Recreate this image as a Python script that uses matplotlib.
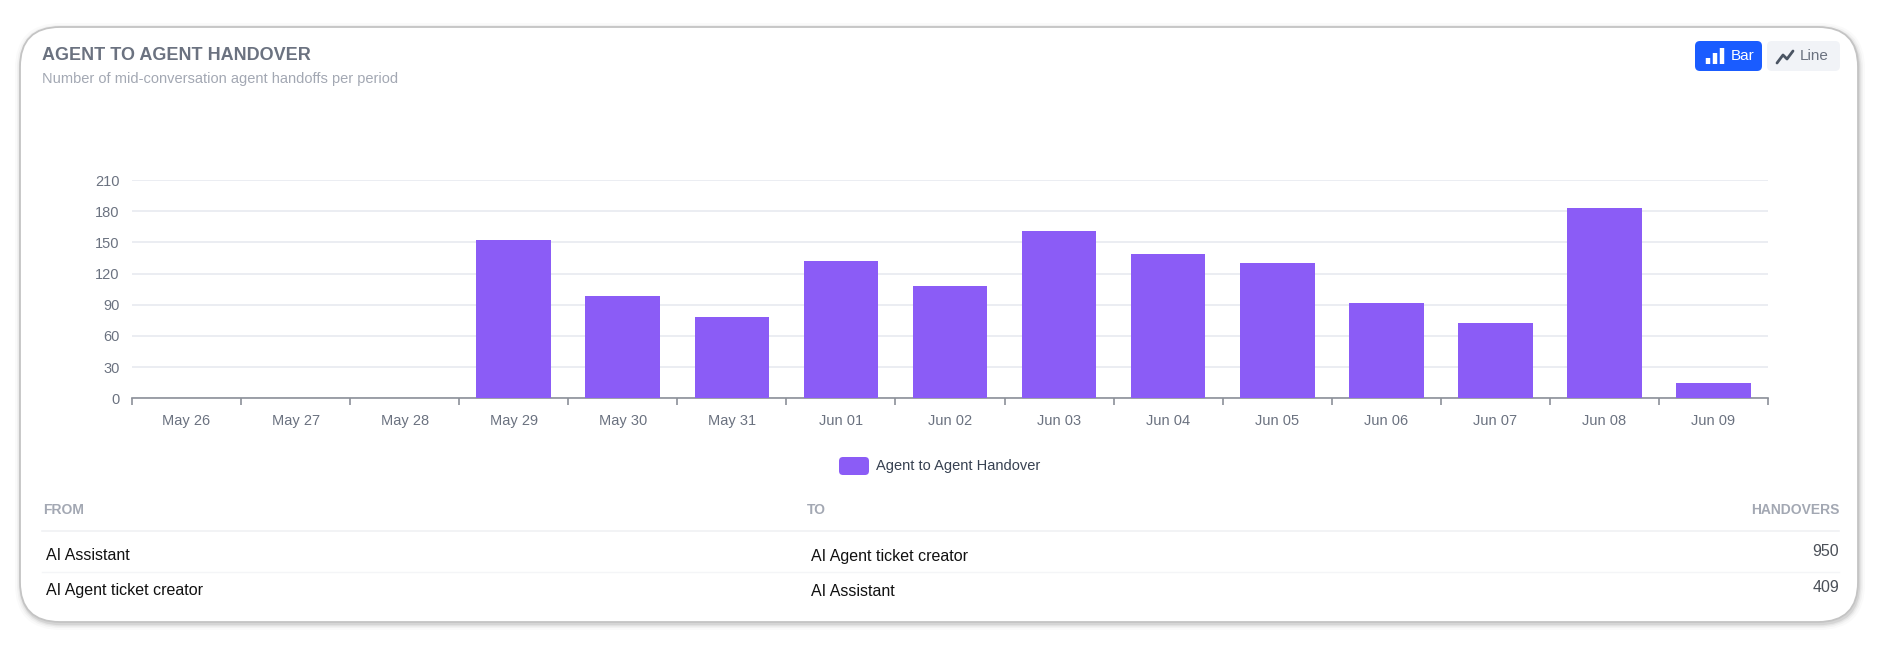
import numpy as np
import matplotlib.pyplot as plt
from matplotlib.patches import FancyBboxPatch
from matplotlib.lines import Line2D

plt.rcParams['font.family'] = ['Liberation Sans', 'DejaVu Sans']

# data
dates = ['May 26', 'May 27', 'May 28', 'May 29', 'May 30', 'May 31', 'Jun 01',
         'Jun 02', 'Jun 03', 'Jun 04', 'Jun 05', 'Jun 06', 'Jun 07', 'Jun 08', 'Jun 09']
handovers = [0, 0, 0, 152, 98, 78, 132, 108, 161, 139, 130, 92, 72, 183, 15]
y_ticks = [0, 30, 60, 90, 120, 150, 180, 210]

from_agents = ['AI Assistant', 'AI Agent ticket creator']
to_agents = ['AI Agent ticket creator', 'AI Assistant']
pair_counts = [950, 409]

W, H = 1891, 656
fig = plt.figure(figsize=(W / 100, H / 100), dpi=100)


# pixel (from top-left) -> figure fraction
def fx(x):
    return x / W


def fy(y):
    return 1 - y / H


def card(x0, y0, x1, y1, r, **kw):
    # rounded box given in pixels, r = corner radius in pixels
    p = FancyBboxPatch((fx(x0), fy(y1)), fx(x1 - x0), (y1 - y0) / H,
                       boxstyle='round,pad=0,rounding_size=%f' % (r / W), transform=fig.transFigure,
                       mutation_aspect=W / H, **kw)
    fig.patches.append(p)
    return p


# card with a soft shadow, mostly below and right
for g, a in [(6, 0.03), (4, 0.05), (2.5, 0.08), (1.2, 0.12)]:
    card(20 - g + 1, 27 - g + 2, 1858 + g + 1, 622 + g + 2, 40 + g, facecolor='#606060',
         edgecolor='none', alpha=a, zorder=0)
card(20, 27, 1858, 622, 40, facecolor='white', edgecolor='#c4c4c4', lw=1.3, zorder=1)

# header
fig.text(fx(42), fy(55), 'AGENT TO AGENT HANDOVER', fontsize=13, fontweight='bold',
         color='#6b7280', va='center', ha='left')
fig.text(fx(42), fy(79), 'Number of mid-conversation agent handoffs per period', fontsize=10.5,
         color='#a3a8b3', va='center', ha='left')

# Bar / Line toggle
card(1695, 41, 1762, 71, 5, facecolor='#1a5cff', edgecolor='none', zorder=2)
card(1767, 41, 1840, 71, 5, facecolor='#f1f3f7', edgecolor='none', zorder=2)
for bx, top in [(1708, 58), (1715, 53), (1722, 48)]:
    fig.add_artist(Line2D([fx(bx), fx(bx)], [fy(64), fy(top)], color='white', lw=3.2,
                          solid_capstyle='butt', zorder=3))
fig.text(fx(1731), fy(56.5), 'Bar', fontsize=11, color='white', va='center', ha='left', zorder=3)
fig.add_artist(Line2D([fx(1777), fx(1783), fx(1787), fx(1793)], [fy(63), fy(55), fy(59), fy(51)],
                      color='#4b5563', lw=2, solid_capstyle='round', solid_joinstyle='round', zorder=3))
fig.text(fx(1800), fy(56.5), 'Line', fontsize=11, color='#6b7280', va='center', ha='left', zorder=3)

# chart
ax = fig.add_axes([fx(132), fy(398.3), fx(1768 - 132), (398.3 - 180) / H], zorder=4)
ax.set_facecolor('none')
x = np.arange(len(dates))
ax.bar(x, handovers, width=0.685, color='#8b5cf6', zorder=3, label='Agent to Agent Handover')
ax.set_xlim(-0.5, len(dates) - 0.5)
ax.set_ylim(0, 210)
ax.set_yticks(y_ticks)
ax.grid(axis='y', color='#e8eaf0', lw=1.2, zorder=0)
for s in ['top', 'right', 'left']:
    ax.spines[s].set_visible(False)
ax.spines['bottom'].set_color('#8c9099')
ax.spines['bottom'].set_linewidth(1.2)
ax.set_xticks(np.arange(len(dates) + 1) - 0.5)
ax.set_xticklabels([])
ax.set_xticks(x, minor=True)
ax.set_xticklabels(dates, minor=True)
ax.tick_params(axis='x', which='major', length=5, color='#8c9099', width=1.2)
ax.tick_params(axis='x', which='minor', length=0, pad=11, labelsize=10.5, labelcolor='#6b7280')
ax.tick_params(axis='y', length=0, pad=9, labelsize=10.5, labelcolor='#6b7280')

# legend
card(839, 457, 869, 475, 4, facecolor='#8b5cf6', edgecolor='none', zorder=3)
fig.text(fx(876), fy(466), ax.get_legend_handles_labels()[1][0], fontsize=10.5, color='#374151',
         va='center', ha='left')

# table
head_y = 510
fig.text(fx(43), fy(head_y), 'FROM', fontsize=10, fontweight='bold', color='#a3a8b3', va='center')
fig.text(fx(807), fy(head_y), 'TO', fontsize=10, fontweight='bold', color='#a3a8b3', va='center')
fig.text(fx(1839), fy(head_y), 'HANDOVERS', fontsize=10, fontweight='bold', color='#a3a8b3',
         va='center', ha='right')
fig.add_artist(Line2D([fx(42), fx(1839)], [fy(531), fy(531)], color='#f0f1f4', lw=1.2))
fig.add_artist(Line2D([fx(42), fx(1839)], [fy(572), fy(572)], color='#f4f5f7', lw=1.0))
row_y = [556, 591]
for ry, src, dst, n in zip(row_y, from_agents, to_agents, pair_counts):
    fig.text(fx(46), fy(ry), src, fontsize=11.5, color='#111111', va='center')
    fig.text(fx(811), fy(ry), dst, fontsize=11.5, color='#111111', va='center')
    fig.text(fx(1839), fy(ry - 4), str(n), fontsize=11.5, color='#4b5058', va='center', ha='right')

fig.savefig('out.png', dpi=100, facecolor='white')
